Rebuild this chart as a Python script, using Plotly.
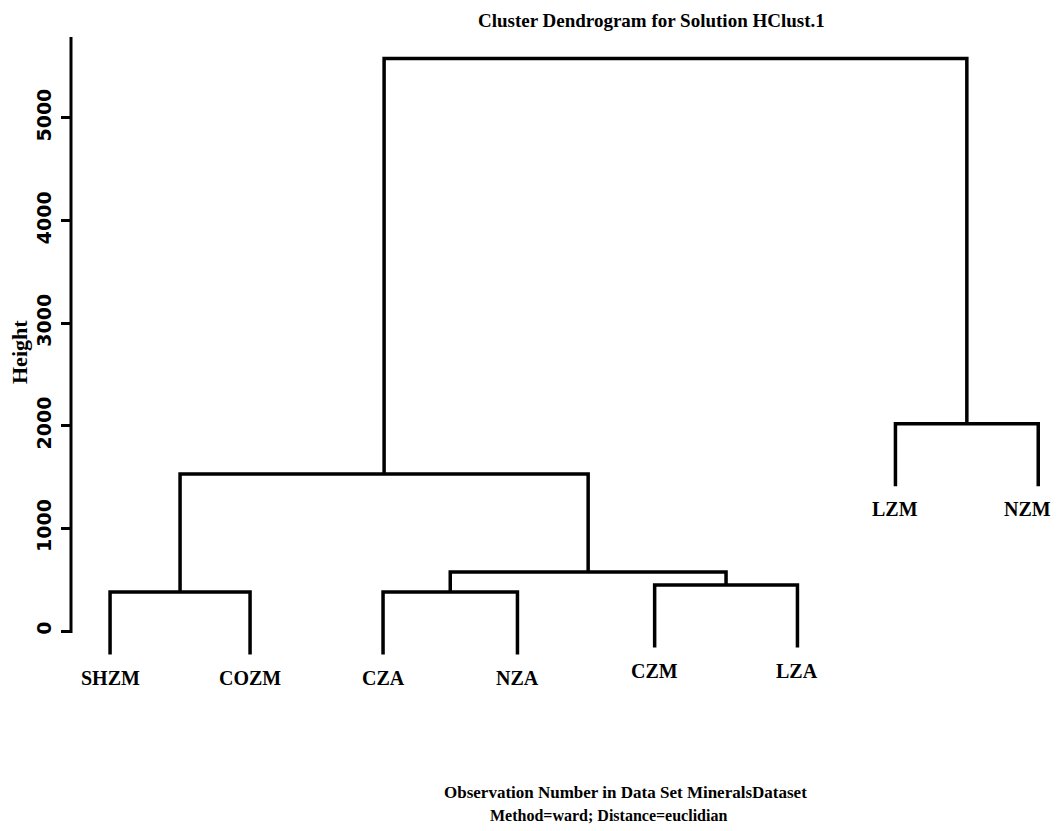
import plotly.graph_objects as go

# Leaves in dendrogram order, with their positions along the x axis
labels = ["SHZM", "COZM", "CZA", "NZA", "CZM", "LZA", "LZM", "NZM"]
leaf_pos = [1.0, 2.0, 2.95, 3.91, 4.89, 5.91, 6.61, 7.63]

# Agglomeration steps (Ward linkage): node ids < 8 are leaves, 8+ are earlier merges
merge_left = [0, 2, 4, 9, 8, 6, 12]
merge_right = [1, 3, 5, 10, 11, 7, 13]
merge_height = [380, 380, 448, 575, 1530, 2020, 5580]

hang = 610  # how far each leaf hangs below its merge
tick_vals = [0, 1000, 2000, 3000, 4000, 5000]

# nudge for the rightmost label so it stays inside the page
label_xshift = {"NZM": -11}

n_leaves = len(labels)
node_x = {i: leaf_pos[i] for i in range(n_leaves)}
node_h = {}

xs, ys = [], []
leaf_end = {}
for k, (a, b, h) in enumerate(zip(merge_left, merge_right, merge_height)):
    node = n_leaves + k
    xa, xb = node_x[a], node_x[b]
    ya = node_h.get(a, h - hang)
    yb = node_h.get(b, h - hang)
    if a < n_leaves:
        leaf_end[a] = ya
    if b < n_leaves:
        leaf_end[b] = yb
    xs += [xa, xa, xb, xb, None]
    ys += [ya, h, h, yb, None]
    node_x[node] = (xa + xb) / 2
    node_h[node] = h

fig = go.Figure()
fig.add_trace(go.Scatter(
    x=xs, y=ys, mode="lines",
    line=dict(color="black", width=3.5),
    hoverinfo="skip", showlegend=False,
))

serif = "Liberation Serif"
for i, name in enumerate(labels):
    fig.add_annotation(
        x=leaf_pos[i], y=leaf_end[i], text=f"<b>{name}</b>",
        showarrow=False, xanchor="center", yanchor="middle", yshift=-23,
        xshift=label_xshift.get(name, 0),
        font=dict(family=serif, size=20, color="black"),
    )

# vertical axis line drawn from just below 0 to the top of the plot
fig.add_shape(type="line", xref="paper", yref="y", x0=0, x1=0, y0=-20, y1=5789,
              line=dict(color="black", width=3))

fig.add_annotation(
    xref="paper", yref="paper", x=(651 - 71) / 979, y=(700 - 20) / 663,
    text="<b>Cluster Dendrogram for Solution HClust.1</b>", showarrow=False,
    xanchor="center", yanchor="middle",
    font=dict(family=serif, size=19, color="black"),
)
fig.add_annotation(
    xref="paper", yref="paper", x=(19 - 71) / 979, y=(700 - 352) / 663,
    text="<b>Height</b>", showarrow=False, textangle=-90,
    xanchor="center", yanchor="middle",
    font=dict(family=serif, size=22, color="black"),
)
fig.add_annotation(
    xref="paper", yref="paper", x=(625 - 71) / 979, y=(700 - 792) / 663,
    text="<b>Observation Number in Data Set MineralsDataset</b>", showarrow=False,
    xanchor="center", yanchor="middle",
    font=dict(family=serif, size=17, color="black"),
)
fig.add_annotation(
    xref="paper", yref="paper", x=(608 - 71) / 979, y=(700 - 815) / 663,
    text="<b>Method=ward; Distance=euclidian</b>", showarrow=False,
    xanchor="center", yanchor="middle",
    font=dict(family=serif, size=16, color="black"),
)

fig.update_xaxes(range=[0.721, 7.714], visible=False, showgrid=False, zeroline=False)
fig.update_yaxes(
    range=[-672.5, 5789], tickvals=tick_vals, ticktext=[str(v) for v in tick_vals],
    ticks="outside", ticklen=9, tickwidth=3, tickcolor="black",
    tickangle=-90, ticklabelstandoff=2,
    tickfont=dict(family="DejaVu Sans", size=19, color="black", weight="bold"),
    showline=False, showgrid=False, zeroline=False,
)
fig.update_layout(
    width=1057, height=831,
    margin=dict(l=71, r=7, t=37, b=131),
    plot_bgcolor="white", paper_bgcolor="white",
    showlegend=False,
)

fig.write_html("out.html")
